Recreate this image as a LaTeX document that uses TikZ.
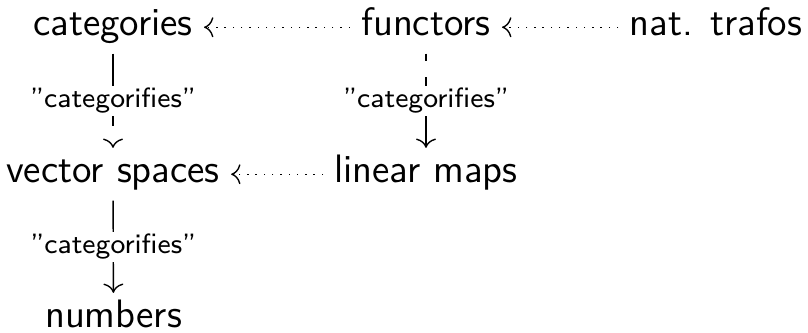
\documentclass[tikz,border=0pt]{standalone}
\usetikzlibrary{arrows.meta}
\tikzset{
	obj/.style={font=\sffamily\fontsize{11.5}{13.5}\selectfont, anchor=base, text height=7.4pt, text depth=2.9pt, inner xsep=3.1pt, inner ysep=2.3pt},
	lbl/.style={font=\sffamily\fontsize{8.1}{9.7}\selectfont, fill=white, inner sep=0.6pt},
	map/.style={-{To[length=2.7pt, width=5.8pt]}},
	lift/.style={map, dotted},
}
\begin{document}
\begin{tikzpicture}[x=0.29pt,y=-0.29pt]
	\useasboundingbox (0,0) rectangle (808,332);
	\node[obj] (cat) at (113,35) {categories};
	\node[obj] (fun) at (426,35) {functors};
	\node[obj] (nat) at (716,35) {nat. trafos};
	\node[obj] (vec) at (113,182) {vector spaces};
	\node[obj] (lin) at (426,182) {linear maps};
	\node[obj] (num) at (113.5,327) {numbers};
	\draw[lift] (fun) -- (cat);
	\draw[lift] (nat) -- (fun);
	\draw[lift] (lin) -- (vec);
	\draw[map, dash pattern=on 21pt off 20pt] (cat) -- node[lbl] {"categorifies''} (vec);
	\draw[map, dash pattern=on 2pt off 4.9pt on 30pt off 0pt] (fun) -- node[lbl] {"categorifies''} (lin);
	\draw[map] (vec) -- node[lbl] {"categorifies''} (num);
\end{tikzpicture}
\end{document}
